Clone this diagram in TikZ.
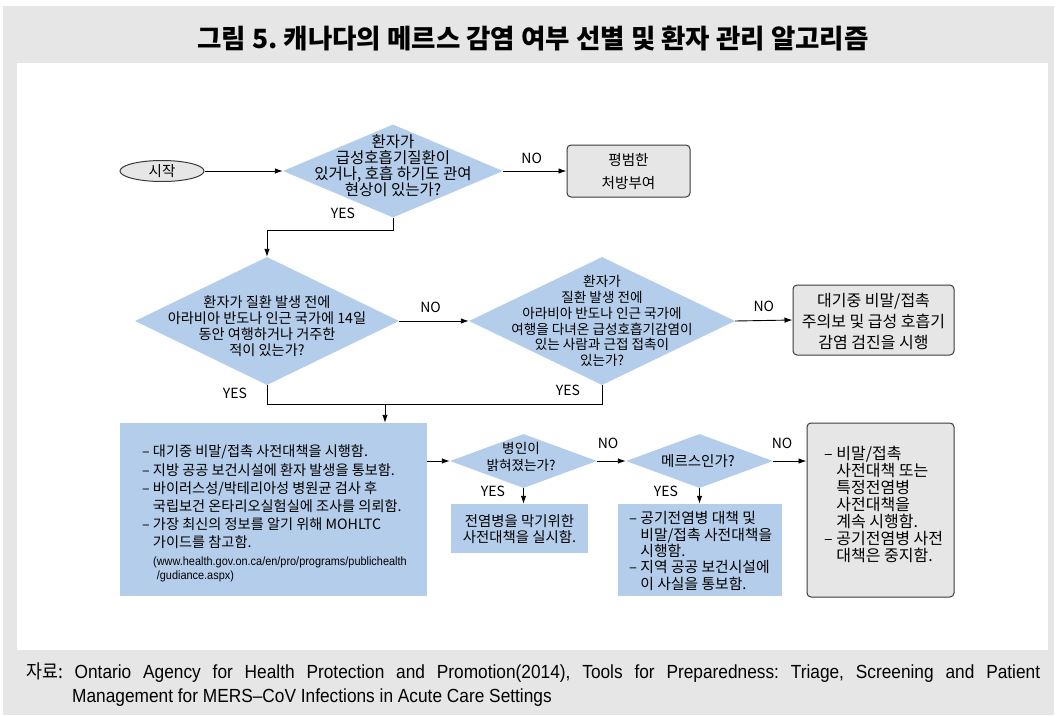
\documentclass[tikz,border=0pt]{standalone}
\usepackage{fontspec}
\setmainfont{Noto Sans CJK KR}
\newfontfamily\capfont[FakeStretch=0.91]{Liberation Sans}
\newfontfamily\capkr[FakeStretch=0.91]{Noto Sans CJK KR}
\usetikzlibrary{shapes.geometric,arrows.meta,calc}
\definecolor{qblue}{HTML}{B4CDEA}
\definecolor{qgray}{HTML}{E6E6E6}
\definecolor{qframe}{HTML}{E6E6E6}
\definecolor{qedge}{HTML}{3A3A3A}
\newcommand{\fs}[2]{\fontsize{#1}{#2}\selectfont}
\frenchspacing
\begin{document}
\begin{tikzpicture}[x=1pt,y=-1pt,
  dtxt/.style={align=center, inner sep=0pt},
  btxt/.style={align=left, inner sep=0pt, anchor=west},
  lab/.style={font=\fs{14}{15}, inner sep=0pt},
  dia/.style={diamond, fill=qblue, draw=none, inner sep=0pt},
  gbox/.style={rectangle, rounded corners=4pt, fill=qgray, draw=qedge, line width=1pt, inner sep=0pt},
  bbox/.style={rectangle, fill=qblue, draw=none, inner sep=0pt},
  arr/.style={-{Latex[length=8pt,width=5.5pt]}, line width=0.9pt},
  lin/.style={line width=0.9pt}]
\useasboundingbox (0,0) rectangle (1056,715);
% frame
\fill[qframe] (3,6) rectangle (1054,715);
\fill[white] (17,63) rectangle (1048,650);
\node[font=\fs{26.5}{29}\bfseries, inner sep=0pt] (title) at (533,39) {그림 5. 캐나다의 메르스 감염 여부 선별 및 환자 관리 알고리즘};

% nodes
\node[ellipse, fill=qgray, draw=qedge, line width=1pt, minimum width=84pt, minimum height=21pt, inner sep=0pt, font=\fs{14.5}{15}] (start) at (162,171) {시작};

\node[dia, minimum width=220pt, minimum height=93pt] (d1) at (393,171) {};
\node[dtxt, font=\fs{15.5}{15.6}] (d1t) at (393,166) {환자가\\급성호흡기질환이\\있거나, 호흡 하기도 관여\\현상이 있는가?};

\node[gbox, minimum width=123pt, minimum height=52pt] (b1) at (628.5,171) {};
\node[dtxt, font=\fs{14.6}{22.5}] (b1t) at (628.5,171.5) {평범한\\처방부여};

\node[dia, minimum width=264pt, minimum height=128pt] (d2) at (267,321) {};
\node[dtxt, font=\fs{14.2}{16}] (d2t) at (267,326) {환자가 질환 발생 전에\\아라비아 반도나 인근 국가에 14일\\동안 여행하거나 거주한\\적이 있는가?};

\node[dia, minimum width=266pt, minimum height=128pt] (d3) at (602,321) {};
\node[dtxt, font=\fs{13.6}{15.8}] (d3t) at (602,321) {환자가\\질환 발생 전에\\아라비아 반도나 인근 국가에\\여행을 다녀온 급성호흡기감염이\\있는 사람과 근접 접촉이\\있는가?};

\node[gbox, minimum width=161pt, minimum height=70pt] (b2) at (873.5,320) {};
\node[dtxt, font=\fs{16}{21}] (b2t) at (873.5,321) {대기중 비말/접촉\\주의보 및 급성 호흡기\\감염 검진을 시행};

\node[bbox, minimum width=307pt, minimum height=173pt] (bb) at (273.5,509.5) {};
\node[btxt, font=\fs{14.2}{18.2}] (bbt) at (142,497) {– 대기중 비말/접촉 사전대책을 시행함.\\– 지방 공공 보건시설에 환자 발생을 통보함.\\– 바이러스성/박테리아성 병원균 검사 후\\\hphantom{– }국립보건 온타리오실험실에 조사를 의뢰함.\\– 가장 최신의 정보를 알기 위해 MOHLTC\\\hphantom{– }가이드를 참고함.};
\node[anchor=west, align=left, inner sep=0pt, font=\capfont\fs{12}{14}] (url) at (153,569) {(www.health.gov.on.ca/en/pro/programs/publichealth\\\hphantom{(}/gudiance.aspx)};

\node[dia, minimum width=147pt, minimum height=54pt] (d4) at (523.5,461) {};
\node[dtxt, font=\fs{13.6}{17}] (d4t) at (521,457) {병인이\\밝혀졌는가?};

\node[dia, minimum width=147pt, minimum height=54pt] (d5) at (699.5,461) {};
\node[dtxt, font=\fs{14.5}{16}] (d5t) at (698,461) {메르스인가?};

\node[bbox, minimum width=137pt, minimum height=49pt] (e) at (519.5,528.5) {};
\node[dtxt, font=\fs{14.4}{16}] (et) at (519.5,529) {전염병을 막기위한\\사전대책을 실시함.};

\node[bbox, minimum width=164pt, minimum height=92pt] (f) at (700,550) {};
\node[btxt, font=\fs{14.8}{16.3}] (ft) at (629,551) {– 공기전염병 대책 및\\\hphantom{– }비말/접촉 사전대책을\\\hphantom{– }시행함.\\– 지역 공공 보건시설에\\\hphantom{– }이 사실을 통보함.};

\node[gbox, minimum width=147pt, minimum height=174pt] (g) at (880.5,510) {};
\node[btxt, font=\fs{16}{17}] (gt) at (824,504) {– 비말/접촉\\\hphantom{– }사전대책 또는\\\hphantom{– }특정전염병\\\hphantom{– }사전대책을\\\hphantom{– }계속 시행함.\\– 공기전염병 사전\\\hphantom{– }대책은 중지함.};

% connectors
\draw[arr] (start.east) -- (d1.west);
\draw[arr] (d1.east) -- node[lab, above=7pt, pos=0.45] {NO} (b1.west);
\draw[arr] (d1.south) -- ++(0,13) -| (d2.north);
\node[lab] (yes1) at (343,213) {YES};
\draw[arr] (d2.east) -- node[lab, above=8pt, pos=0.45] {NO} (d3.west);
\draw[arr] (d3.east) -- node[lab, above=8pt, pos=0.5] {NO} (b2.west);
\coordinate (j) at (385,404);
\draw[lin] (d2.south) -- (d2.south |- j) -- (d3.south |- j) -- (d3.south);
\node[lab] (yes2) at (235,393) {YES};
\node[lab] (yes3) at (568,390) {YES};
\draw[arr] (j) -- (j |- bb.north);
\draw[arr] (bb.east |- d4.west) -- (d4.west);
\draw[arr] (d4.east) -- (d5.west);
\node[lab] (no4) at (608,443) {NO};
\draw[arr] (d5.east) -- (d5.east -| g.west);
\node[lab] (no5) at (782,443) {NO};
\draw[arr] (d4.south) -- (d4.south |- e.north);
\node[lab] (yes4) at (493,491) {YES};
\draw[arr] (d5.south) -- (d5.south |- f.north);
\node[lab] (yes5) at (666,491) {YES};

% caption
\node[anchor=west, inner sep=0pt, font=\capfont\fs{19}{22}] (cap1) at (26,673) {\makebox[1014pt][s]{{\capkr 자료:}\ Ontario Agency for Health Protection and Promotion(2014), Tools for Preparedness: Triage, Screening and Patient}};
\node[anchor=west, inner sep=0pt, font=\capfont\fs{19}{22}] (cap2) at (72,698) {Management for MERS–CoV Infections in Acute Care Settings};
\end{tikzpicture}
\end{document}
